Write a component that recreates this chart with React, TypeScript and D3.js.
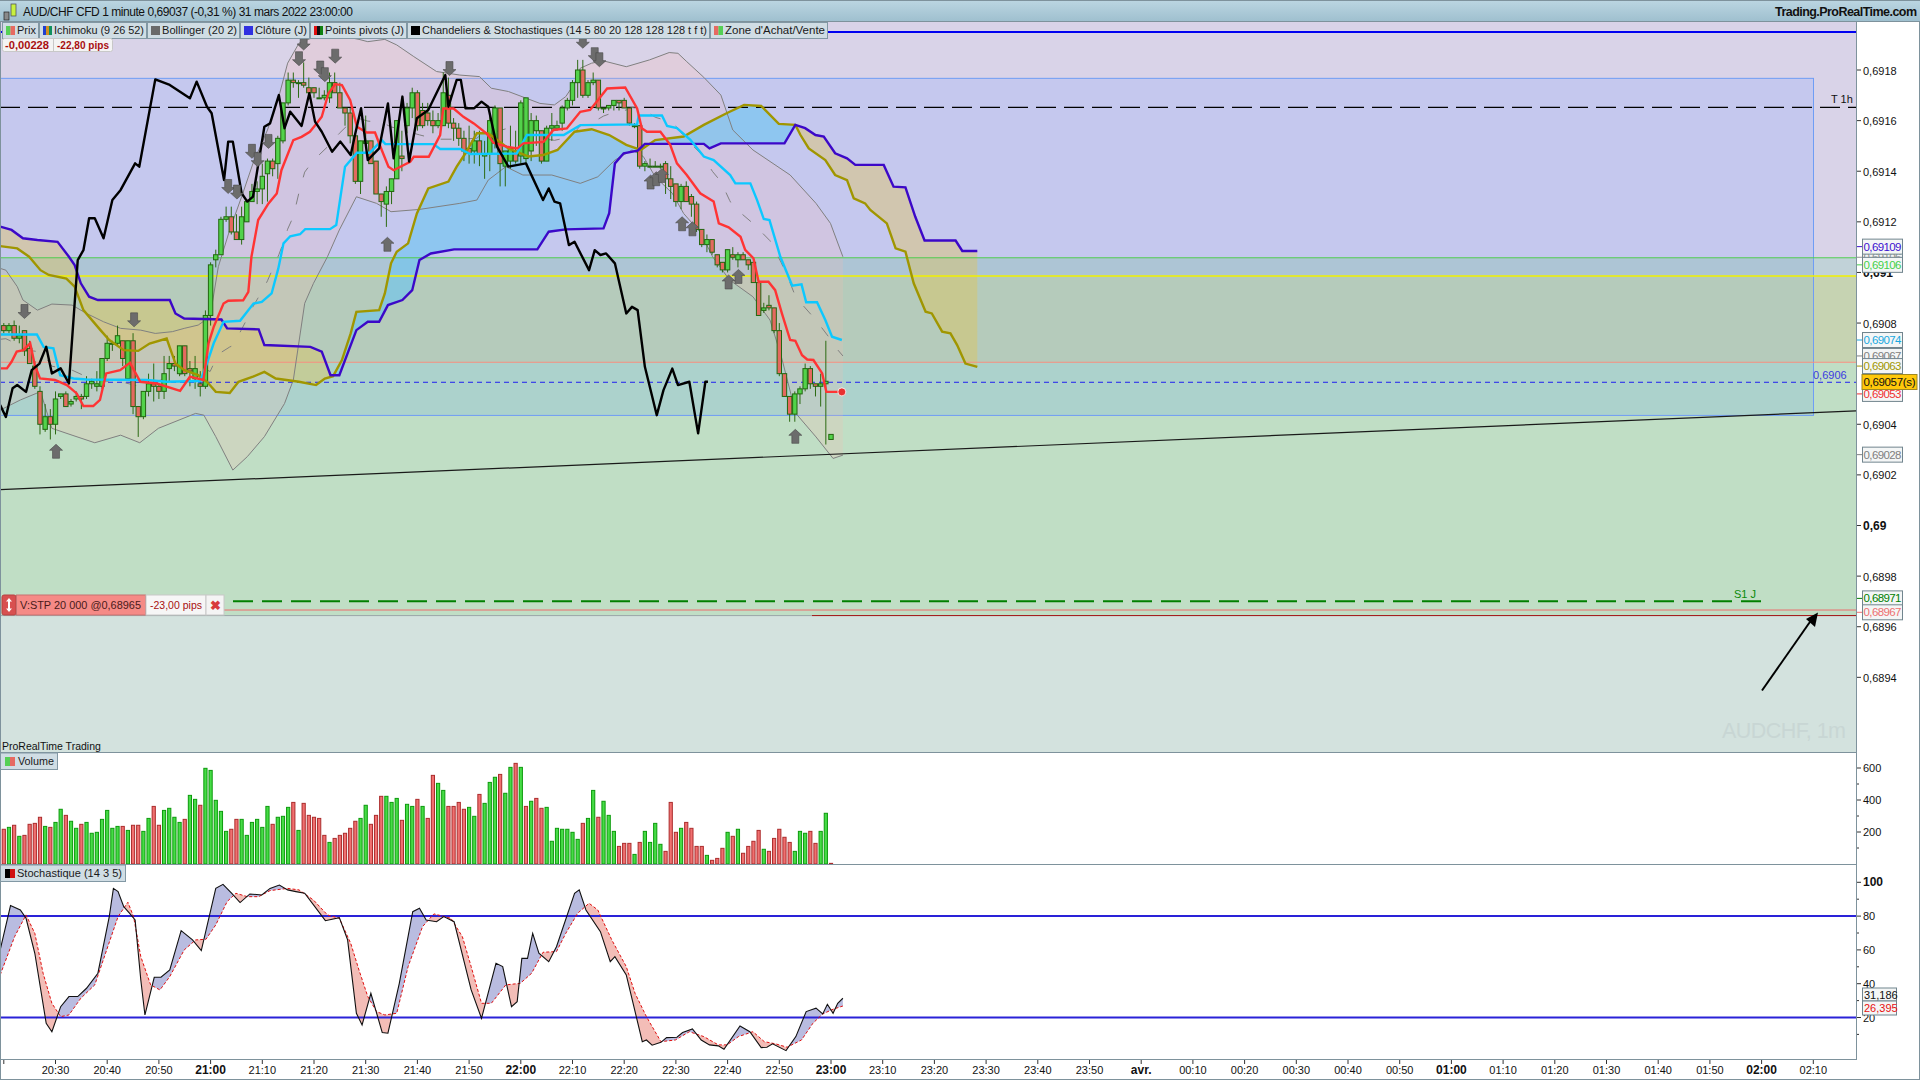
import React from 'react';
import * as d3 from 'd3';

// Prices are stored as offsets, in 1e-5 units, from BASE_PRICE (0.69).
const BASE_PRICE = 0.69;
type Pt = [number, number];

// one candle per minute, from 20:20 (minute 0) to 23:00 (minute 160): open, high, low, close
const candleOHLC: number[][] = [
[79,80,76,77],[77,80,76,79],[79,81,73,74],[74,79,72,75],[77,77,67,69],[70,73,64,64],[63,65,54,55],[53,55,36,40],[38,48,37,43],[43,46,34,40],
[40,53,36,50],[51,52,50,52],[52,53,47,47],[48,50,47,49],[50,53,49,51],[51,52,46,50],[51,59,50,56],[56,58,54,57],[55,61,53,56],[55,66,54,66],
[66,75,65,72],[72,73,69,72],[72,79,71,75],[73,73,63,66],[58,73,58,73],[73,76,44,47],[47,47,35,43],[43,53,42,53],[53,60,51,56],[56,64,49,55],
[55,56,50,53],[53,67,50,60],[62,67,57,64],[64,67,61,63],[60,71,59,71],[71,71,59,60],[62,65,55,61],[58,67,54,62],[56,61,51,55],[55,85,54,83],
[83,104,79,103],[105,109,102,107],[107,122,107,121],[121,126,120,122],[122,126,115,116],[116,123,113,113],[113,126,111,122],[120,129,120,128],[128,135,128,132],[132,136,127,133],
[133,143,127,138],[139,145,128,144],[144,145,138,141],[143,154,137,153],[152,167,151,167],[167,179,166,176],[176,179,173,175],[175,176,169,175],[175,183,173,174],[173,177,169,171],
[173,173,169,171],[169,173,169,169],[169,172,168,170],[169,179,167,175],[175,179,171,171],[171,175,165,165],[165,165,158,163],[163,165,151,154],[154,155,135,136],[136,152,131,152],
[151,162,151,152],[152,152,143,143],[144,144,131,131],[131,131,122,128],[127,134,118,132],[132,137,127,137],[137,160,137,160],[146,156,140,145],[158,167,155,165],[165,173,161,171],
[171,172,156,158],[164,167,157,158],[163,167,158,160],[160,164,155,158],[158,163,157,160],[158,179,158,171],[170,177,157,159],[159,161,152,157],[157,159,150,153],[153,156,144,148],
[149,158,143,147],[148,156,143,152],[152,156,142,147],[146,152,137,147],[147,162,140,160],[151,166,149,165],[165,165,134,143],[142,148,134,148],[144,158,141,149],[148,156,143,144],
[146,168,143,167],[145,169,143,169],[148,163,144,160],[156,162,150,160],[156,156,143,144],[144,158,144,157],[157,163,152,158],[157,160,156,158],[159,166,156,165],[165,169,164,168],
[168,176,166,175],[175,184,169,180],[180,184,169,170],[170,176,169,175],[175,179,174,176],[176,176,164,165],[165,165,163,165],[165,166,164,166],[166,168,164,168],[168,168,164,167],
[168,169,165,165],[165,165,158,159],[158,159,157,158],[158,158,141,142],[142,144,140,143],[142,145,142,142],[142,144,142,142],[142,143,141,142],[143,144,131,137],[137,142,129,134],
[135,135,126,128],[128,135,125,134],[134,136,128,128],[130,131,122,127],[127,128,116,117],[117,117,110,111],[111,115,108,113],[113,113,107,108],[107,107,102,103],[104,104,100,101],
[101,109,100,109],[107,110,105,106],[105,108,102,107],[107,108,105,105],[105,105,101,103],[104,104,96,96],[96,96,83,83],[85,88,84,86],[87,91,85,86],[86,86,76,77],
[77,80,59,60],[60,60,51,51],[51,51,41,44],[44,53,41,52],[52,55,48,54],[54,64,53,62],[62,63,54,56],[56,56,51,55],[55,60,47,56],[56,73,32,57],[34,36,34,36],
];

// positive = green bar, negative = red bar
const volumeSigned: number[] = [
-217,229,-242,173,-179,-248,-254,-292,235,-229,260,342,-304,267,223,-248,260,192,198,279,335,223,235,-235,210,-242,-242,204,285,-360,-242,335,348,292,260,-279,429,404,-367,598,585,398,329,204,-217,-279,279,179,260,279,229,360,-248,292,298,354,-385,210,-379,-304,-292,-285,-179,135,-160,-179,-192,-223,-267,285,367,-248,-304,-423,423,385,410,-273,373,360,-404,360,-285,
-554,504,460,-360,-360,-385,-342,354,298,-435,379,510,542,-560,442,604,-629,604,-360,392,-410,-348,354,142,223,217,217,198,154,-254,285,460,-292,392,304,204,-110,-129,-129,60,-135,204,135,254,123,-79,-385,-198,223,-260,-223,-110,-110,54,-23,-35,-98,198,-173,217,-67,-110,-142,-210,92,-79,-160,-217,-167,-135,79,204,192,-204,-129,204,317,-4,
];

// [minute, price offset]
const chikouLine: Pt[] = [[-0.7,47.6],[0.4,42.9],[1.7,54.2],[2.6,55.5],[4.3,52.8],[5.4,61.4],[6.9,64],[8.2,70.6],[9.3,60.1],[11,62.1],[12.6,56.1],[14.3,104.9],[15.4,108.8],[16.5,121.4],[17.6,121.4],[19.3,113.5],[21,128.6],[22.6,132.6],[25.4,143.1],[26.2,141.8],[29.3,176.3],[32.1,174.1],[36,168.8],[37.3,175.4],[39.3,165.5],[40.2,162.9],[42.6,136.5],[43.4,151.7],[44.3,151.7],[46,131.3],[47.1,128],[48.2,130],[50.4,157.6],[51.5,158.9],[53.2,170.1],[54.3,157],[55.4,163.5],[57.6,157.9],[59.1,170.8],[60.2,159.6],[61.5,155.6],[63.5,147.7],[65.1,151.7],[67.1,146.4],[68,155],[69.1,164.9],[70.4,144.4],[72.6,149],[74.3,166.8],[75.4,145.1],[77.1,169.5],[78.4,143.8],[79.9,160.9],[82.1,164.2],[85.4,178],[86,165.5],[87.6,176.1],[88.4,176.1],[89.3,164.9],[91,164.9],[92.4,167.5],[93.7,165.5],[95.4,149.7],[97.6,141.8],[101,143.1],[104.3,128.6],[105.4,133.2],[106.5,128],[107.6,127.3],[109.3,110.8],[110.4,112.1],[113.2,100.9],[114.3,108.8],[115.4,106.9],[116.5,107.5],[118.2,103.6],[120.4,83.8],[121.5,86.4],[122.6,85.1],[124,62.7],[126.3,43.6],[127.6,53.5],[129.3,62],[130.4,55.5],[132.6,56.8],[134.3,36.4],[135.7,56.8],[136.2,56.8]];

const tenkanLine: Pt[] = [[-0.7,62.1],[0.6,62.1],[1.5,64.7],[2.5,68.7],[3.8,69.3],[5.1,72],[6,63.4],[7,58.1],[9.9,57.5],[12.2,55.5],[14.1,52.2],[15.4,47.2],[17.3,47.2],[18.6,49.6],[19.8,60.1],[22.5,61.4],[24.4,64.3],[25.7,59.4],[26.4,56.8],[29.6,56.1],[34.1,53.2],[36,58.8],[38.6,57.5],[39.6,72],[40.6,78.5],[42.5,87.7],[43.4,88.8],[46.3,89],[47.3,92.3],[47.9,106.2],[49.2,120.7],[51.2,127.3],[52.8,131.2],[53.7,140.4],[56,152.3],[57.6,153.6],[59.2,155.6],[60.5,158.9],[61.5,161.5],[62.8,170.8],[64.1,174.4],[65.4,174],[67,168.1],[68.3,157.6],[70.2,155.3],[71.8,155.3],[73.1,148.4],[74.4,141.8],[75.4,140.4],[78.6,143.7],[79.3,145.7],[82.2,145.7],[84.4,154.3],[85,164.8],[87,164.8],[88.9,161.5],[90.9,158.9],[93.4,154.9],[94.7,151.3],[97.3,149.7],[99.3,149],[100.5,151],[104.4,151.6],[106.3,156.3],[108.9,156.9],[111.5,163.5],[113.4,164.2],[116.7,172.7],[120.2,173.1],[122.5,164.8],[123.4,157],[124.4,155.6],[127,155.6],[128.9,150.4],[130.2,143.1],[132.1,138.5],[134.7,131.3],[137.3,128],[138.3,119.4],[140.2,117.8],[142.5,114.1],[143.4,108.9],[145,105.6],[146,96.3],[147.9,96.3],[149.2,93],[150.5,83.8],[152.1,73.3],[153.1,73],[154.4,67.3],[155.4,65.6],[156.6,65.4],[158.3,60.1],[159.1,52.8],[162.1,52.8]];

const kijunLine: Pt[] = [[-0.7,75.5],[6.4,75.5],[7.7,70.6],[9.6,70],[10.9,59.4],[13.5,58.1],[16,57.7],[27.7,57.5],[31.5,56.8],[38,57.1],[39.3,64.1],[40.6,72],[42.5,80.5],[45.7,80.9],[48.3,87.7],[49.9,88.4],[51.8,91.7],[53.1,101.6],[54.1,111.5],[55.4,114.3],[57.3,115.1],[58.3,117.1],[63.1,117.1],[64.3,118.7],[66,141.8],[68.3,147.3],[70.8,147.3],[73.1,152.3],[73.8,150.7],[83.1,150.7],[84.4,148.8],[88.3,148.8],[90.2,146.8],[99.2,147],[101.2,154.3],[108.3,154.3],[111.5,158.2],[122.5,158.5],[122.8,162],[127.3,162],[128.3,157.9],[130.2,157],[132.8,152.4],[135.4,145.8],[137.3,144.4],[140.5,138.5],[141.5,135.2],[144.4,135.2],[145.7,128.6],[147,121.1],[148.1,120.7],[150.2,106.2],[152.5,94.8],[154.3,95.3],[155.2,88.2],[157.3,88.2],[158.9,81.2],[160.2,74.6],[162.1,73.3]];

const senkouALine: Pt[] = [[-0.7,118.1],[1.5,116.8],[3.7,113.5],[6.5,112.8],[10.4,112.1],[12.6,106.2],[13.7,102.9],[14.9,95.7],[16.5,90.4],[18.2,89.1],[32.1,89.1],[33.2,83.8],[34.9,81.8],[42.1,81.4],[43.2,77.9],[49.3,77.5],[50.4,71.3],[59.3,70.6],[61.5,68.7],[63.2,59.4],[64.9,59.4],[66.5,68],[68.2,77.2],[70.4,80.5],[72.6,80.5],[74.3,87.1],[77.1,89.1],[79,93],[80.4,104.9],[82.6,107.5],[87.1,109.1],[103.2,109.1],[105.4,116.1],[108.7,117],[116,117.4],[117.1,123.4],[118.2,143.1],[119.9,147.1],[122.6,148.1],[124,150.8],[135.4,150.8],[136.5,149],[138.7,151],[151,151],[153.1,158.3],[155,157],[157,154.3],[158.6,153.7],[160.8,147.1],[163.1,145.1],[164.7,142.5],[170.2,142.5],[172.1,133.9],[174.4,133.6],[176.3,122],[178.1,112.6],[184.1,112.6],[185.4,108.5],[188.3,108.5]];

const senkouBLine: Pt[] = [[-0.7,110.4],[2.6,109.5],[4.9,106.2],[7.1,100.9],[8.7,99],[12.1,97.6],[13.7,94.4],[15.4,85.1],[18.7,77.2],[20.4,73.3],[23.2,69.3],[26,69],[28.2,71.9],[31.5,73.9],[33.2,64],[34.9,61.4],[37.6,59.4],[39.3,56.8],[41,52.8],[43.7,52.4],[45.4,56.8],[48.2,58.8],[50.4,60.7],[52.6,58.1],[57.1,56.8],[60.4,55.5],[62.1,58.1],[63.7,59],[65.4,65.4],[67.1,75.9],[68.2,84.4],[72.6,85.1],[73.7,91.7],[74.9,103.6],[76,108.2],[78.2,111.5],[79.9,123.3],[82.1,133.2],[86,135.9],[87.6,141.8],[89.3,147.1],[91.5,155],[93.7,155],[97.6,149],[101.5,145.8],[104.3,146.4],[107.1,148.4],[110.4,155.6],[113.7,156.6],[117.1,154.3],[120.4,150.4],[123.2,148.4],[126,152.3],[131.5,153.7],[135.4,158.3],[139.8,162.9],[143.2,166.2],[146.5,165.8],[149.9,158.7],[153.1,158.3],[154.1,154.3],[155.7,149],[158.9,144.4],[160.8,138.5],[163.1,136.5],[164.4,129.3],[166.6,127.3],[167.6,124.7],[170.8,119.4],[172.5,109.5],[174.4,108.2],[176,95.7],[178.3,84.5],[179.5,83.8],[181.5,76.6],[183.1,75.9],[184.4,71.3],[186,64],[188.3,62.7]];

const bollUpper: Pt[] = [[-0.7,101.6],[0.4,100.9],[2.6,94.4],[3.7,89.1],[6.5,85.1],[9.3,87.5],[13.2,87.1],[16,83.8],[19.3,80.5],[22.6,77.9],[26.5,77.2],[29.3,75.9],[32.6,76.6],[34.9,77.9],[37.6,79.2],[39.9,82.5],[41.5,102.3],[43.7,116.8],[46,129.9],[48.2,143.1],[51,156.3],[53.2,169.5],[54.9,182.7],[57.1,190.6],[59.9,192.9],[66,193.2],[68.7,192.1],[70.4,191.2],[73.7,192.1],[76,189.9],[79.3,185.3],[83.7,179.4],[88.2,178],[92,177.4],[94.3,172.8],[97.6,171.5],[103.7,166.8],[106.5,166.2],[108.7,169.5],[110.4,174.7],[111.5,180.7],[113.7,182.7],[116,183.6],[120.4,181.3],[124.9,184],[128.7,186.9],[130.4,186.6],[132.1,183.3],[135.4,177.1],[138.7,170.1],[141,156.3],[144.9,148.4],[152.1,138.5],[157.1,127.3],[159.9,119.4],[162.3,106.2]];

const bollLower: Pt[] = [[-0.7,45.6],[3.2,49.6],[7.1,52.9],[9.3,38.4],[13.2,35.7],[17.6,32.7],[22.6,35.7],[26.3,32.7],[29.9,38.4],[37.1,44.3],[38.7,43.6],[41,35.1],[44.3,21.9],[47.1,27.2],[50.4,35.1],[54.3,48.2],[56,57.5],[58.2,87.8],[59.9,95.7],[62.6,106.2],[64.9,116.8],[68.2,129.9],[72.1,127.3],[74.9,124],[80.4,124.9],[88.2,127.3],[91.5,128.6],[93.7,136.5],[97.1,141.8],[100.4,138.5],[106,138.5],[111.5,135.2],[114.9,137.8],[118.2,144.4],[121.5,148.4],[123.7,145.8],[126,137.8],[129.3,131.3],[131.5,123.3],[134.9,115.4],[137.1,106.2],[140.4,97],[144.9,90.4],[148.2,81.2],[150.4,66.7],[153.2,44.3],[157.1,35],[160.4,26.5],[162.3,27.8]];

const signalsDown: Pt[] = [[4,81.8],[25.2,78.5],[43.4,131.2],[45.1,129],[48,145.1],[49.1,141.8],[51.2,149],[57.1,181.7],[58,187.9],[61.2,178],[62.1,175.4],[64.1,182.7],[86.2,177.8],[112,188.6],[114.3,183.3],[115.2,181.3]];
const signalsUp: Pt[] = [[10.1,32.1],[74.2,113.9],[125.1,138.5],[126.2,139.8],[127.3,141.1],[131.2,122],[133.2,120],[140.2,99],[142.1,101.2],[153.1,38]];

const stochK: Pt[] = [[-0.7,60],[1.3,86.2],[3.2,83.6],[4.3,78.7],[6,58],[8.2,16.6],[9.3,11.6],[11,26.4],[12.6,32.4],[14.3,32.4],[16,37.3],[18.2,46.2],[20.4,79.7],[21.2,96.4],[22.1,94.5],[23.2,85.6],[24.3,81.7],[25.4,77.7],[26.5,42.2],[27.3,21.5],[29.1,43.8],[30.4,43.8],[32.1,48.1],[34.3,71.4],[36.5,65.9],[38.2,59.6],[41,96.4],[42.4,98.8],[44.1,93.5],[45.7,88],[47.6,93.1],[49.9,92.5],[51.5,96.4],[53.3,98.4],[54.9,95.5],[56.5,94.5],[58.2,93.5],[62.2,77.3],[64.9,79.1],[66.5,65.9],[68.2,22.5],[69.3,15.6],[71,34.3],[73.2,11.1],[74.3,10.7],[76.5,40.2],[79.1,82.6],[80.4,84.6],[81.7,77.7],[83.7,76.7],[85.1,79.7],[87.1,76.7],[90.4,36.3],[92.4,19.5],[95.2,52.1],[96.5,50.1],[98.2,26.4],[99.3,29.4],[100.2,55],[101.3,55],[102.3,69.8],[103.5,58],[105.4,53],[106.9,61.9],[110.4,93.5],[111.3,95.5],[112.6,83.6],[115.4,70.8],[117.3,53],[118.2,56],[120.4,45.2],[123.5,5.7],[124.3,6.7],[125.4,3.6],[127.1,5.3],[128.2,8.1],[130.2,8.3],[131.3,11.1],[133.2,13.2],[134.9,6.7],[136.5,3.8],[138.2,3.2],[139.3,1.2],[142.4,15],[144.3,11.6],[146.5,2.2],[147.6,2.4],[148.7,4.4],[151.3,0.4],[153.2,8.7],[155.2,23.5],[157.1,25.5],[158.4,22.1],[159.3,27.8],[160.4,22.5],[161.3,28.4],[162.3,31.4]];

const stochD: Pt[] = [[-0.7,45.2],[2.1,67.9],[4.3,80.7],[6,69.8],[7.6,46.2],[9.3,28.4],[11,20.5],[12.6,21.5],[14.9,31.4],[17.6,39.3],[19.9,60],[22.1,79.7],[24,88.2],[25.1,79.7],[26.5,56],[28.4,39.3],[30.2,36.3],[32.1,44.2],[34.9,60],[37.1,65.9],[39.1,66.3],[41,74.8],[43.2,88.6],[44.9,93.5],[47.1,91.5],[49.3,91.5],[51.5,95.1],[54.9,96.4],[57.1,95.5],[59.9,89.5],[62.6,80.7],[64.9,78.7],[67.1,63.9],[68.7,48.1],[70.4,32.4],[72.1,23.5],[73.7,21.5],[76,22.5],[78.2,50.1],[81,73.8],[83.2,81.3],[86.5,78.7],[88.7,67.8],[90.4,50.1],[92.4,28.4],[94.3,28.4],[97.1,39.3],[99.9,40.2],[102.1,46.2],[104.3,58.6],[106.9,59],[108.7,69.8],[111,81.7],[113.2,87.6],[114.9,83.6],[117.6,65.9],[120.4,50.1],[122.1,34.3],[124.3,20.5],[127.1,5.7],[129.9,6.7],[132.6,11.6],[135.4,8.7],[138.2,3.8],[139.9,3.8],[142.1,8.7],[144.9,11.6],[147.1,5.7],[149.3,4.4],[151.5,2.4],[154.3,6.7],[156.5,16.6],[158.4,22.1],[160.4,24.9],[162.3,26.8]];

const timeLabels = ['20:30','20:40','20:50','21:00','21:10','21:20','21:30','21:40','21:50','22:00','22:10','22:20','22:30','22:40','22:50','23:00','23:10','23:20','23:30','23:40','23:50','avr.','00:10','00:20','00:30','00:40','00:50','01:00','01:10','01:20','01:30','01:40','01:50','02:00','02:10'];
const boldTimes = ['21:00','22:00','23:00','avr.','01:00','02:00'];
const priceTicks: [number, string, boolean][] = [[180,'0,6918',false],[160,'0,6916',false],[140,'0,6914',false],[120,'0,6912',false],[100,'0,691',true],[80,'0,6908',false],[40,'0,6904',false],[20,'0,6902',false],[0,'0,69',true],[-20,'0,6898',false],[-40,'0,6896',false],[-60,'0,6894',false]];
const volumeTicks = [600, 400, 200];
const volumeMinor = [500, 300, 100];
const stochTicks = [100, 80, 60, 40, 20];
const stochMinor = [90, 70, 50, 30, 10];
// drawn in this order; later tags cover earlier ones
const priceTags: [number, string, string][] = [[106,'0,69106','#909090'],[110.2,'0,69109','#3c10d0'],[103,'0,69106','#44d04a'],[73.3,'0,69074','#18a8e0'],[67,'0,69067','#808080'],[63,'0,69063','#a09600'],[52,'0,69053','#f03030'],[28,'0,69028','#808080'],[-28.8,'0,68971','#008000'],[-34.3,'0,68967','#ee7070']];
const levels = { blueTop: 195, t1h: 165.2, green: 105.8, yellow: 98.6, salmon: 64.5, close: 56.6, rectTop: 176.7, rectBottom: 43.5, s1: -29.9, pink: -33.4, stop: -35.6 };
const trendLine: Pt[] = [[-0.7,14.2],[358.3,45.3]];
const legendItems: [string, string[], number, number][] = [
  ['Prix',['#55d055','#e66a62'],2,38],['Ichimoku (9 26 52)',['#2040d0','#d09020','#109060'],39,146],['Bollinger (20 2)',['#6a6a6a'],147,239],['Clôture (J)',['#3030e0'],240,309],['Points pivots (J)',['#e01010','#101010','#108010'],310,406],['Chandeliers & Stochastiques (14 5 80 20 128 128 128 t f t)',['#000000'],407,709],["Zone d'Achat/Vente",['#e66a62','#55d055'],710,827],
];

const FONT = '"Liberation Sans", Arial, sans-serif';
const PLOT_R = 1856;
const RECT_R = 1813.5;
const x = d3.scaleLinear().domain([0, 160]).range([3.8, 831]);
const y = d3.scaleLinear().domain([180, 0]).range([70, 525.5]);
const yVol = d3.scaleLinear().domain([0, 600]).range([864, 768]);
const yStoch = d3.scaleLinear().domain([20, 100]).range([1017.5, 882.3]);
const xVol = d3.scaleLinear().domain([0, volumeSigned.length - 1]).range([3.8, 831]);

const linePrice = d3.line<Pt>().x(d => x(d[0])).y(d => y(d[1]));
const lineStoch = d3.line<Pt>().x(d => x(d[0])).y(d => yStoch(d[1]));

function at(s: Pt[], m: number) {
  const i = Math.min(s.length - 1, Math.max(1, d3.bisector((d: Pt) => d[0]).right(s, m)));
  const [x0, y0] = s[i - 1], [x1, y1] = s[i];
  return y0 + (y1 - y0) * (m - x0) / (x1 - x0);
}
function runsBetween(a: Pt[], b: Pt[]) {
  const lo = Math.max(a[0][0], b[0][0]), hi = Math.min(a[a.length - 1][0], b[b.length - 1][0]);
  const ms = Array.from(new Set([...a, ...b].map(d => d[0]).filter(m => m >= lo && m <= hi))).sort((p, q) => p - q);
  const runs: { up: boolean; pts: [number, number, number][] }[] = [];
  let cur: { up: boolean; pts: [number, number, number][] } | null = null;
  ms.forEach((m, i) => {
    const av = at(a, m), bv = at(b, m), up = av >= bv;
    if (!cur) { cur = { up, pts: [] }; runs.push(cur); }
    else if (cur.up !== up) {
      const pm = ms[i - 1], pa = at(a, pm), pb = at(b, pm);
      const t = (pa - pb) / ((pa - pb) - (av - bv));
      const cm = pm + (m - pm) * t, cv = pa + (av - pa) * t;
      cur.pts.push([cm, cv, cv]);
      cur = { up, pts: [[cm, cv, cv]] }; runs.push(cur);
    }
    cur.pts.push([m, av, bv]);
  });
  return runs;
}

const cloudArea = d3.area<[number, number, number]>().x(d => x(d[0])).y0(d => y(d[1])).y1(d => y(d[2]));
const stochArea = d3.area<[number, number, number]>().x(d => x(d[0])).y0(d => yStoch(d[1])).y1(d => yStoch(d[2]));
const cloudRuns = runsBetween(senkouALine, senkouBLine);
const stochRuns = runsBetween(stochK, stochD);
const bollRuns = runsBetween(bollUpper, bollLower);
const bollMiddle: Pt[] = bollRuns.flatMap(r => r.pts.map(p => [p[0], (p[1] + p[2]) / 2] as Pt));

// background zones between pivot levels: top level, bottom level, colour outside and inside the 1h box
const zones: [number, number, string, string][] = [
  [levels.rectTop, levels.green, 'rgb(217,211,232)', 'rgb(197,200,238)'],
  [levels.green, levels.yellow, 'rgb(193,210,216)', 'rgb(173,197,213)'],
  [levels.yellow, levels.salmon, 'rgb(198,211,178)', 'rgb(181,203,187)'],
  [levels.salmon, levels.rectBottom, 'rgb(192,222,197)', 'rgb(172,210,204)'],
];

const Tag = ({ yy, text, color }: { yy: number; text: string; color: string }) => (
  <g>
    <line x1={1857} x2={1862} y1={yy} y2={yy} stroke={color} />
    <rect x={1862.5} y={yy - 7.5} width={40} height={15} fill="#f4f6f6" stroke="#71858e" strokeWidth={1} />
    <text x={1863.5} y={yy + 4} fontSize={11.5} fill={color} textLength={38} lengthAdjust="spacing">{text}</text>
  </g>
);

export default function App() {
  const arrowDown = 'M0,0 L-6.5,-6 L-3.5,-6 L-3.5,-14 L3.5,-14 L3.5,-6 L6.5,-6 Z';
  const arrowUp = 'M0,0 L-6.5,6 L-3.5,6 L-3.5,14 L3.5,14 L3.5,6 L6.5,6 Z';
  return (
    <svg width={1920} height={1080} viewBox="0 0 1920 1080" style={{ position: 'fixed', left: 0, top: 0, background: '#fff' }} fontFamily={FONT}>
      <defs>
        <linearGradient id="hdr" x1="0" x2="0" y1="0" y2="1"><stop offset="0" stopColor="#bcd6e2" /><stop offset="1" stopColor="#9fc0cf" /></linearGradient>
        <clipPath id="main"><rect x={0} y={21} width={PLOT_R} height={732} /></clipPath>
        <clipPath id="stoch"><rect x={0} y={865} width={PLOT_R} height={195} /></clipPath>
      </defs>

      {/* price panel background zones */}
      <g clipPath="url(#main)">
        <rect x={0} y={21} width={PLOT_R} height={y(levels.green) - 21} fill="rgb(217,211,232)" />
        <rect x={0} y={y(levels.green)} width={PLOT_R} height={y(levels.yellow) - y(levels.green)} fill="rgb(193,210,216)" />
        <rect x={0} y={y(levels.yellow)} width={PLOT_R} height={y(levels.salmon) - y(levels.yellow)} fill="rgb(198,211,178)" />
        <rect x={0} y={y(levels.salmon)} width={PLOT_R} height={y(levels.stop) - y(levels.salmon)} fill="rgb(192,222,197)" />
        <rect x={0} y={y(levels.stop)} width={PLOT_R} height={753 - y(levels.stop)} fill="rgb(211,226,222)" />
        {zones.map((z, i) => <rect key={i} x={0} y={y(z[0])} width={RECT_R} height={y(z[1]) - y(z[0])} fill={z[3]} />)}
        <rect x={0} y={y(levels.rectTop)} width={RECT_R} height={y(levels.rectBottom) - y(levels.rectTop)} fill="none" stroke="#6f9df5" strokeWidth={1} />

        <text x={1722} y={738} fontSize={21.5} fill="#c8d6d4" textLength={124} lengthAdjust="spacing">AUDCHF, 1m</text>

        {/* Bollinger band */}
        {bollRuns.map((r, i) => <path key={i} d={cloudArea(r.pts) || ''} fill="rgba(255,185,175,0.2)" />)}
        {/* Ichimoku cloud */}
        {cloudRuns.map((r, i) => <path key={i} d={cloudArea(r.pts) || ''} fill={r.up ? 'rgba(227,195,80,0.4)' : 'rgba(105,197,242,0.6)'} />)}

        {/* horizontal levels */}
        <line x1={0} x2={PLOT_R} y1={y(levels.blueTop)} y2={y(levels.blueTop)} stroke="#0000f0" strokeWidth={2} />
        <line x1={0} x2={PLOT_R} y1={y(levels.t1h)} y2={y(levels.t1h)} stroke="#000" strokeWidth={1.2} strokeDasharray="20 8" />
        <line x1={0} x2={PLOT_R} y1={y(levels.green)} y2={y(levels.green)} stroke="#50cc50" strokeWidth={1} />
        <line x1={0} x2={PLOT_R} y1={y(levels.yellow)} y2={y(levels.yellow)} stroke="#f0f000" strokeWidth={1.4} />
        <line x1={0} x2={PLOT_R} y1={y(levels.salmon)} y2={y(levels.salmon)} stroke="#f58f80" strokeWidth={1} />
        <line x1={0} x2={PLOT_R} y1={y(levels.close)} y2={y(levels.close)} stroke="#2020f0" strokeWidth={1} strokeDasharray="5 4" />
        <line x1={224} x2={1761} y1={y(levels.s1)} y2={y(levels.s1)} stroke="#008000" strokeWidth={2} strokeDasharray="20 9" strokeDashoffset={20} />
        <line x1={224} x2={PLOT_R} y1={y(levels.pink)} y2={y(levels.pink)} stroke="#ec6c6c" strokeWidth={1} />
        <line x1={0} x2={812} y1={y(levels.stop)} y2={y(levels.stop)} stroke="#9aa6a6" strokeWidth={1} />
        <line x1={812} x2={PLOT_R} y1={y(levels.stop)} y2={y(levels.stop)} stroke="#a01010" strokeWidth={1} />
        <text x={1831} y={103} fontSize={11} fill="#111">T 1h</text>
        <text x={1734} y={597.5} fontSize={11} fill="#0a8a0a">S1 J</text>
        <text x={1813} y={379} fontSize={11} fill="#3a3ae0">0,6906</text>

        {/* Bollinger lines */}
        <path d={linePrice(bollUpper) || ''} fill="none" stroke="#808080" strokeWidth={1} />
        <path d={linePrice(bollLower) || ''} fill="none" stroke="#808080" strokeWidth={1} />
        <path d={linePrice(bollMiddle) || ''} fill="none" stroke="#808080" strokeWidth={1} strokeDasharray="11 17" />

        {/* candles */}
        {candleOHLC.map(([o, h, l, c], i) => {
          const up = c >= o;
          const top = y(Math.max(o, c)), bot = y(Math.min(o, c));
          return (
            <g key={i}>
              <line x1={x(i)} x2={x(i)} y1={y(h)} y2={y(l)} stroke="#2c6a12" strokeWidth={1} />
              <rect x={x(i) - 2.2} y={top} width={4.4} height={Math.max(1, bot - top)} fill={up ? '#52d24a' : '#e4695f'} stroke="#22660f" strokeWidth={1} />
            </g>
          );
        })}

        {/* trend line and ichimoku lines */}
        <path d={linePrice(trendLine) || ''} fill="none" stroke="#1a1a1a" strokeWidth={1.2} />
        <path d={linePrice(senkouBLine) || ''} fill="none" stroke="#a09600" strokeWidth={2.4} />
        <path d={linePrice(senkouALine) || ''} fill="none" stroke="#3c08c8" strokeWidth={2.4} />
        <path d={linePrice(kijunLine) || ''} fill="none" stroke="#0cc8ff" strokeWidth={2.4} />
        <path d={linePrice(tenkanLine) || ''} fill="none" stroke="#ff3434" strokeWidth={2.4} />
        <path d={linePrice(chikouLine) || ''} fill="none" stroke="#000" strokeWidth={2.4} strokeLinejoin="round" />
        <circle cx={x(162.1)} cy={y(52.8)} r={4} fill="#e83030" stroke="#fff" strokeWidth={0.8} />

        {signalsDown.map((d, i) => <path key={i} transform={`translate(${x(d[0])},${y(d[1])})`} d={arrowDown} fill="#6c6c6c" stroke="#4a4a4a" strokeWidth={0.6} />)}
        {signalsUp.map((d, i) => <path key={i} transform={`translate(${x(d[0])},${y(d[1])})`} d={arrowUp} fill="#6c6c6c" stroke="#4a4a4a" strokeWidth={0.6} />)}

        {/* annotation arrow */}
        <line x1={1762} y1={690.5} x2={1812} y2={619} stroke="#000" strokeWidth={2} />
        <path d="M1818,612.5 L1806,619 L1815,627 Z" fill="#000" />

        <text x={2} y={750} fontSize={10.5} fill="#111">ProRealTime Trading</text>
      </g>

      {/* volume */}
      {volumeSigned.map((v, i) => (
        <rect key={i} x={xVol(i) - 1.6} y={yVol(Math.abs(v))} width={3.2} height={864 - yVol(Math.abs(v))} fill={v >= 0 ? '#46dc46' : '#f07070'} stroke={v >= 0 ? '#0c9a0c' : '#ab2c2c'} strokeWidth={1} />
      ))}

      {/* stochastic */}
      <g clipPath="url(#stoch)">
        {stochRuns.map((r, i) => <path key={i} d={stochArea(r.pts) || ''} fill={r.up ? '#b9bce0' : '#f3bdb7'} />)}
        <line x1={0} x2={PLOT_R} y1={yStoch(80)} y2={yStoch(80)} stroke="#2a22d8" strokeWidth={2} />
        <line x1={0} x2={PLOT_R} y1={yStoch(20)} y2={yStoch(20)} stroke="#2a22d8" strokeWidth={2} />
        <path d={lineStoch(stochD) || ''} fill="none" stroke="#e01010" strokeWidth={1} strokeDasharray="3 2" />
        <path d={lineStoch(stochK) || ''} fill="none" stroke="#101010" strokeWidth={1.1} />
      </g>

      {/* frames */}
      <rect x={PLOT_R + 0.5} y={21} width={63} height={1059} fill="#fff" />
      <line x1={0} x2={PLOT_R} y1={752.5} y2={752.5} stroke="#7e929c" />
      <line x1={0} x2={PLOT_R} y1={864.5} y2={864.5} stroke="#7e929c" />
      <line x1={0} x2={PLOT_R} y1={1059.5} y2={1059.5} stroke="#7e929c" />
      <line x1={PLOT_R + 0.5} x2={PLOT_R + 0.5} y1={21} y2={1060} stroke="#7e929c" />
      <line x1={0.5} x2={0.5} y1={21} y2={1080} stroke="#7e929c" />
      <line x1={1919.5} x2={1919.5} y1={0} y2={1080} stroke="#7e929c" />
      <line x1={0} x2={1920} y1={1079.5} y2={1079.5} stroke="#7e929c" />

      {/* header */}
      <rect x={0} y={0} width={1920} height={21} fill="url(#hdr)" />
      <line x1={0} x2={1920} y1={0.5} y2={0.5} stroke="#7e929c" />
      <line x1={0} x2={1920} y1={21.5} y2={21.5} stroke="#7e929c" />
      <rect x={4} y={12} width={5} height={8} fill="#8a8a8a" stroke="#222" strokeWidth={0.7} />
      <rect x={11} y={4} width={5} height={12} fill="#c8f040" stroke="#445" strokeWidth={0.7} />
      <text x={23} y={16} fontSize={12} fill="#111" textLength={330} lengthAdjust="spacing">AUD/CHF CFD 1 minute 0,69037 (-0,31 %) 31 mars 2022 23:00:00</text>
      <text x={1775} y={16} fontSize={12.5} fontWeight="bold" fill="#111" textLength={142} lengthAdjust="spacing">Trading.ProRealTime.com</text>

      {/* legend */}
      {legendItems.map(([label, colors, x0, x1], i) => (
        <g key={i}>
          <rect x={x0 + 0.5} y={22.5} width={x1 - x0} height={16} fill="#d0dde4" stroke="#8298a4" />
          {colors.map((c, j) => <rect key={j} x={x0 + 4 + j * (9 / colors.length)} y={26} width={9 / colors.length} height={9} fill={c} />)}
          <text x={x0 + 15} y={34} fontSize={11} fill="#1a1a1a" textLength={x1 - x0 - 17} lengthAdjust="spacingAndGlyphs">{label}</text>
        </g>
      ))}

      {/* P&L box */}
      <rect x={2.5} y={38.5} width={110} height={13} rx={2} fill="#f4f4f4" stroke="#c8c8c8" />
      <line x1={53.5} x2={53.5} y1={39} y2={51} stroke="#c8c8c8" />
      <text x={5} y={49} fontSize={11} fontWeight="bold" fill="#a81010" textLength={44} lengthAdjust="spacingAndGlyphs">-0,00228</text>
      <text x={57} y={49} fontSize={11} fontWeight="bold" fill="#a81010" textLength={52} lengthAdjust="spacingAndGlyphs">-22,80 pips</text>

      {/* order tag */}
      <rect x={2} y={595} width={14} height={20} rx={2} fill="#d85050" stroke="#b84040" />
      <path d="M9,598 L12,601.5 L10,601.5 L10,608.5 L12,608.5 L9,612 L6,608.5 L8,608.5 L8,601.5 L6,601.5 Z" fill="#fff" />
      <rect x={16.5} y={595} width={129} height={20} fill="#f58a86" stroke="#c87070" />
      <text x={20} y={609} fontSize={11} fill="#4a1a1a" textLength={121} lengthAdjust="spacingAndGlyphs">V:STP  20 000 @0,68965</text>
      <rect x={146} y={595} width={60} height={20} fill="#f6f6f6" stroke="#c8c8c8" />
      <text x={150} y={609} fontSize={11} fill="#a81010" textLength={52} lengthAdjust="spacingAndGlyphs">-23,00 pips</text>
      <rect x={206} y={595} width={18} height={20} fill="#f4f4f4" stroke="#c8c8c8" />
      <text x={215} y={609.5} fontSize={13} fontWeight="bold" fill="#d83a3a" textAnchor="middle">✖</text>

      {/* volume and stochastic legends */}
      <rect x={0.5} y={753} width={57} height={16.5} fill="#d0dde4" stroke="#8298a4" />
      <rect x={5} y={757} width={5} height={9} fill="#55d055" /><rect x={10} y={757} width={5} height={9} fill="#e66a62" />
      <text x={18} y={765} fontSize={11} fill="#1a1a1a" textLength={36} lengthAdjust="spacingAndGlyphs">Volume</text>
      <rect x={0.5} y={865} width={125} height={16.5} fill="#d0dde4" stroke="#8298a4" />
      <rect x={5} y={869} width={5} height={9} fill="#000" /><rect x={10} y={869} width={5} height={9} fill="#d01010" />
      <text x={17} y={877} fontSize={11} fill="#1a1a1a" textLength={105} lengthAdjust="spacingAndGlyphs">Stochastique (14 3 5)</text>

      {/* price axis */}
      {priceTicks.map(([v, s, b], i) => (
        <g key={i}>
          <line x1={1857} x2={1861} y1={y(v)} y2={y(v)} stroke="#333" />
          <text x={1863} y={y(v) + 4.5} fontSize={b ? 12 : 11} fontWeight={b ? 'bold' : 'normal'} fill="#111">{s}</text>
        </g>
      ))}
      {priceTags.map(([v, s, c], i) => <Tag key={i} yy={y(v)} text={s} color={c} />)}
      <rect x={1862} y={374.5} width={55} height={15} fill="#ffc80a" stroke="#a08820" />
      <text x={1863.5} y={386} fontSize={11.5} fill="#111" textLength={52} lengthAdjust="spacing">0,69057(s)</text>

      {/* volume axis */}
      {volumeTicks.map(v => (
        <g key={v}>
          <line x1={1857} x2={1861} y1={yVol(v)} y2={yVol(v)} stroke="#333" />
          <text x={1863} y={yVol(v) + 4} fontSize={11} fill="#111">{v}</text>
        </g>
      ))}
      {volumeMinor.map(v => <line key={v} x1={1857} x2={1859} y1={yVol(v)} y2={yVol(v)} stroke="#333" />)}

      {/* stochastic axis */}
      {stochTicks.map(v => (
        <g key={v}>
          <line x1={1857} x2={1861} y1={yStoch(v)} y2={yStoch(v)} stroke="#333" />
          <text x={1863} y={yStoch(v) + 4} fontSize={v === 100 ? 12 : 11} fontWeight={v === 100 ? 'bold' : 'normal'} fill="#111">{v}</text>
        </g>
      ))}
      {stochMinor.map(v => <line key={v} x1={1857} x2={1859} y1={yStoch(v)} y2={yStoch(v)} stroke="#333" />)}
      <rect x={1862.5} y={988} width={34} height={13} fill="#f4f6f6" stroke="#71858e" />
      <text x={1864} y={998.5} fontSize={11} fill="#111">31,186</text>
      <rect x={1862.5} y={1001} width={34} height={14} fill="#f4f6f6" stroke="#71858e" />
      <text x={1864} y={1012} fontSize={11} fill="#e81010">26,395</text>

      {/* time axis */}
      <line x1={x(0)} x2={x(0)} y1={1060} y2={1064} stroke="#333" />
      {timeLabels.map((s, i) => {
        const m = 10 + i * 10;
        const bold = boldTimes.includes(s);
        return (
          <g key={s}>
            <line x1={x(m)} x2={x(m)} y1={1060} y2={1064} stroke="#333" />
            <text x={x(m)} y={1074} fontSize={bold ? 12 : 11} fontWeight={bold ? 'bold' : 'normal'} fill="#111" textAnchor="middle">{s}</text>
          </g>
        );
      })}
    </svg>
  );
}
